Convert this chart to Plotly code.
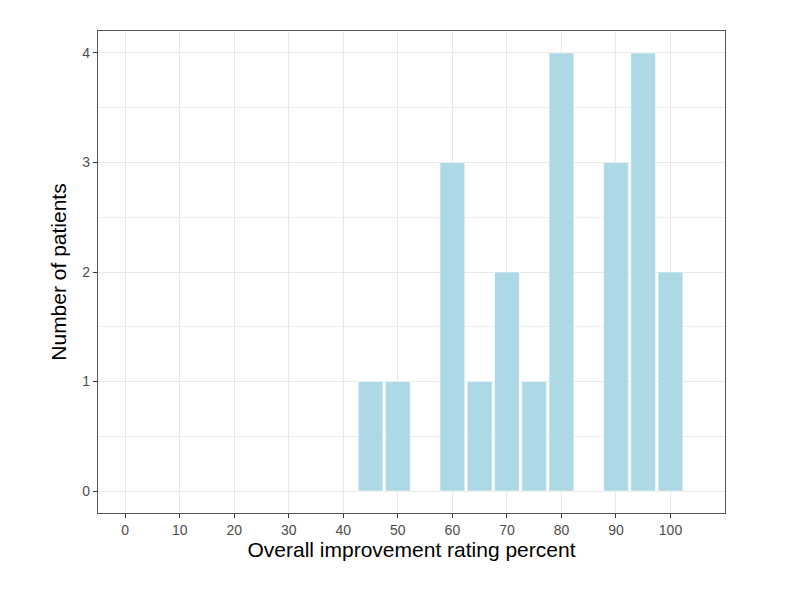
import plotly.graph_objects as go

ratings = [45, 50, 60, 65, 70, 75, 80, 90, 95, 100]
patients = [1, 1, 3, 1, 2, 1, 4, 3, 4, 2]
x_ticks = [0, 10, 20, 30, 40, 50, 60, 70, 80, 90, 100]
y_ticks = [0, 1, 2, 3, 4]

fig = go.Figure(go.Bar(
    x=ratings, y=patients, width=4.55,
    marker=dict(color="#ADD8E6", line=dict(color="white", width=0.6)),
))

fig.update_layout(
    width=800, height=600,
    paper_bgcolor="white", plot_bgcolor="white",
    margin=dict(l=90, r=83, t=23, b=95),
    showlegend=False,
    font=dict(family="Liberation Sans, Arial, sans-serif"),
)
fig.update_xaxes(
    range=[-5, 110], tickvals=x_ticks, ticktext=[str(v) for v in x_ticks],
    ticks="outside", ticklen=4, tickcolor="#333333", tickwidth=1,
    tickfont=dict(size=14, color="#4D4D4D"),
    showgrid=True, gridcolor="#E8E8E8", gridwidth=1.3, zeroline=False,
    showline=True, linecolor="#555555", linewidth=1.2, mirror=True,
    title=dict(text="Overall improvement rating percent", font=dict(size=21, color="black"), standoff=4),
)
fig.update_yaxes(
    range=[-0.2, 4.2], tickvals=y_ticks, ticktext=[str(v) for v in y_ticks],
    ticks="outside", ticklen=4, tickcolor="#333333", tickwidth=1,
    tickfont=dict(size=14, color="#4D4D4D"),
    showgrid=True, gridcolor="#E8E8E8", gridwidth=1.3, zeroline=False,
    minor=dict(dtick=0.5, tick0=0, showgrid=True, gridcolor="#EEEEEE", gridwidth=0.8, ticks=""),
    showline=True, linecolor="#555555", linewidth=1.2, mirror=True,
    title=dict(text="Number of patients", font=dict(size=21, color="black"), standoff=9),
)

fig.write_html("out.html")
